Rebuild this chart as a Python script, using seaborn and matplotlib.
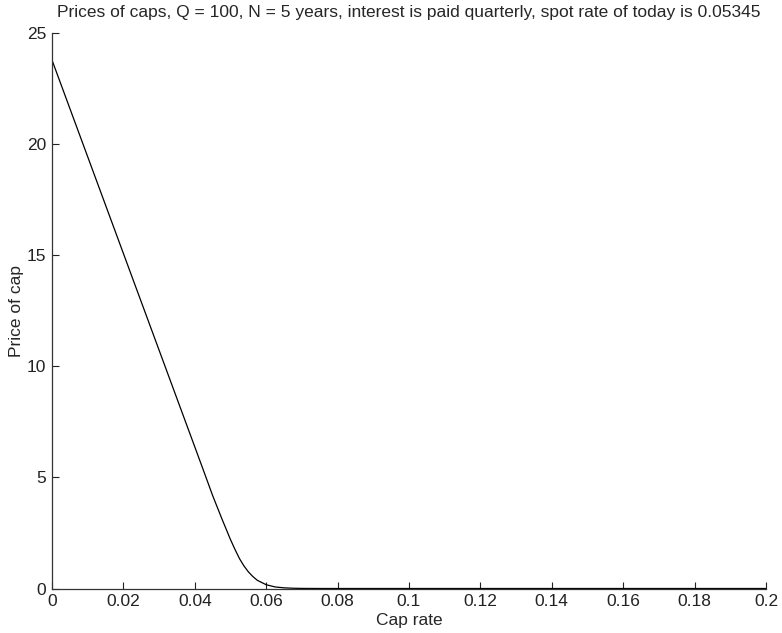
import matplotlib
matplotlib.use("Agg")
import matplotlib.pyplot as plt
import seaborn as sns
import pandas as pd
from matplotlib.ticker import FuncFormatter

cap_rate = [0.0, 0.01, 0.02, 0.03, 0.04, 0.0425, 0.045, 0.0475, 0.05,
            0.05125, 0.0525, 0.05375, 0.055, 0.05625, 0.0575, 0.06, 0.0625,
            0.065, 0.0675, 0.07, 0.075, 0.08, 0.1, 0.12, 0.14, 0.16, 0.18, 0.2]
cap_price = [23.77, 19.42, 15.07, 10.72, 6.37, 5.28, 4.18, 3.17, 2.2,
             1.76, 1.35, 1.02, 0.75, 0.54, 0.37, 0.17, 0.07,
             0.03, 0.012, 0.004, 0.0005, 0.0, 0.0, 0.0, 0.0, 0.0, 0.0, 0.0]
x_ticks = [0, 0.02, 0.04, 0.06, 0.08, 0.1, 0.12, 0.14, 0.16, 0.18, 0.2]
y_ticks = [0, 5, 10, 15, 20, 25]
title = "Prices of caps, Q = 100, N = 5 years, interest is paid quarterly, spot rate of today is 0.05345"

sns.set_style("ticks")
plt.rcParams['font.family'] = ['Liberation Sans', 'DejaVu Sans']

df = pd.DataFrame({"Cap rate": cap_rate, "Price of cap": cap_price})

fig = plt.figure(figsize=(7.82, 6.33), dpi=100)
ax = fig.add_axes([0.0665, 0.0703, 0.913, 0.878])
sns.lineplot(data=df, x="Cap rate", y="Price of cap", ax=ax, color="black",
             linewidth=0.9)

fs = 12.5
ax.set_xlim(0, 0.2)
ax.set_ylim(0, 25)
ax.set_xticks(x_ticks)
ax.set_yticks(y_ticks)
ax.xaxis.set_major_formatter(FuncFormatter(lambda v, p: f"{v:g}"))
ax.yaxis.set_major_formatter(FuncFormatter(lambda v, p: f"{v:g}"))
ax.tick_params(direction="in", length=5, width=0.8, labelsize=fs,
               colors="#222222", pad=4)
ax.tick_params(axis="y", pad=4)
for s in ["top", "right"]:
    ax.spines[s].set_visible(False)
for s in ["left", "bottom"]:
    ax.spines[s].set_linewidth(0.9)
    ax.spines[s].set_color("#333333")
ax.set_xlabel("Cap rate", fontsize=fs, labelpad=3)
ax.set_ylabel("Price of cap", fontsize=fs, labelpad=2)
ax.set_title(title, fontsize=fs, pad=11)

fig.savefig("out.png", dpi=100)
